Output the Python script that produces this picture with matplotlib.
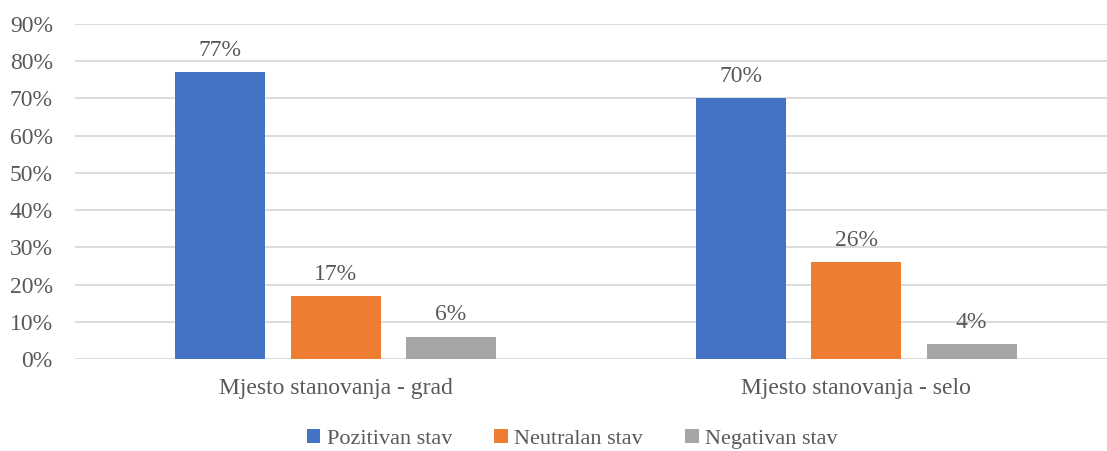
import matplotlib.pyplot as plt
import numpy as np

categories = ["Mjesto stanovanja - grad", "Mjesto stanovanja - selo"]
series_names = ["Pozitivan stav", "Neutralan stav", "Negativan stav"]
pozitivan = [77, 70]
neutralan = [17, 26]
negativan = [6, 4]

colors = ["#4472C4", "#ED7D31", "#A5A5A5"]
text_color = "#595959"

plt.rcParams["font.family"] = ["Liberation Serif", "DejaVu Serif"]

fig = plt.figure(figsize=(11.07, 4.51), dpi=100)
ax = fig.add_axes([75 / 1107, 1 - 359 / 451, (1107 - 75) / 1107, (359 - 24) / 451])

x = np.arange(len(categories))
offset = 0.222
width = 0.173
for i, (vals, name) in enumerate(zip([pozitivan, neutralan, negativan], series_names)):
    pos = x + (i - 1) * offset
    ax.bar(pos, vals, width, color=colors[i], label=name, zorder=3)
    for px, v in zip(pos, vals):
        ax.text(px, v + 3.0, f"{v}%", ha="center", va="bottom", fontsize=17, color=text_color)

ax.set_ylim(0, 90)
ax.set_xlim(-0.5005, 1.482)
ax.set_yticks(np.arange(0, 91, 10))
ax.set_yticklabels([f"{t}%" for t in range(0, 91, 10)], fontsize=17, color=text_color)
ax.set_xticks(x)
ax.set_xticklabels(categories, fontsize=17, color=text_color)
ax.tick_params(axis="both", length=0)
ax.tick_params(axis="y", pad=16)
ax.tick_params(axis="x", pad=14)
ax.grid(axis="y", color="#D9D9D9", linewidth=1.3, zorder=0)
for s in ax.spines.values():
    s.set_visible(False)

fig.legend(loc="lower center", bbox_to_anchor=(0.517, -0.04), ncol=3, frameon=False,
           fontsize=16, handlelength=0.6, handleheight=0.6, handletextpad=0.3,
           columnspacing=1.9, labelcolor=text_color)

fig.savefig("out.png", dpi=100)
